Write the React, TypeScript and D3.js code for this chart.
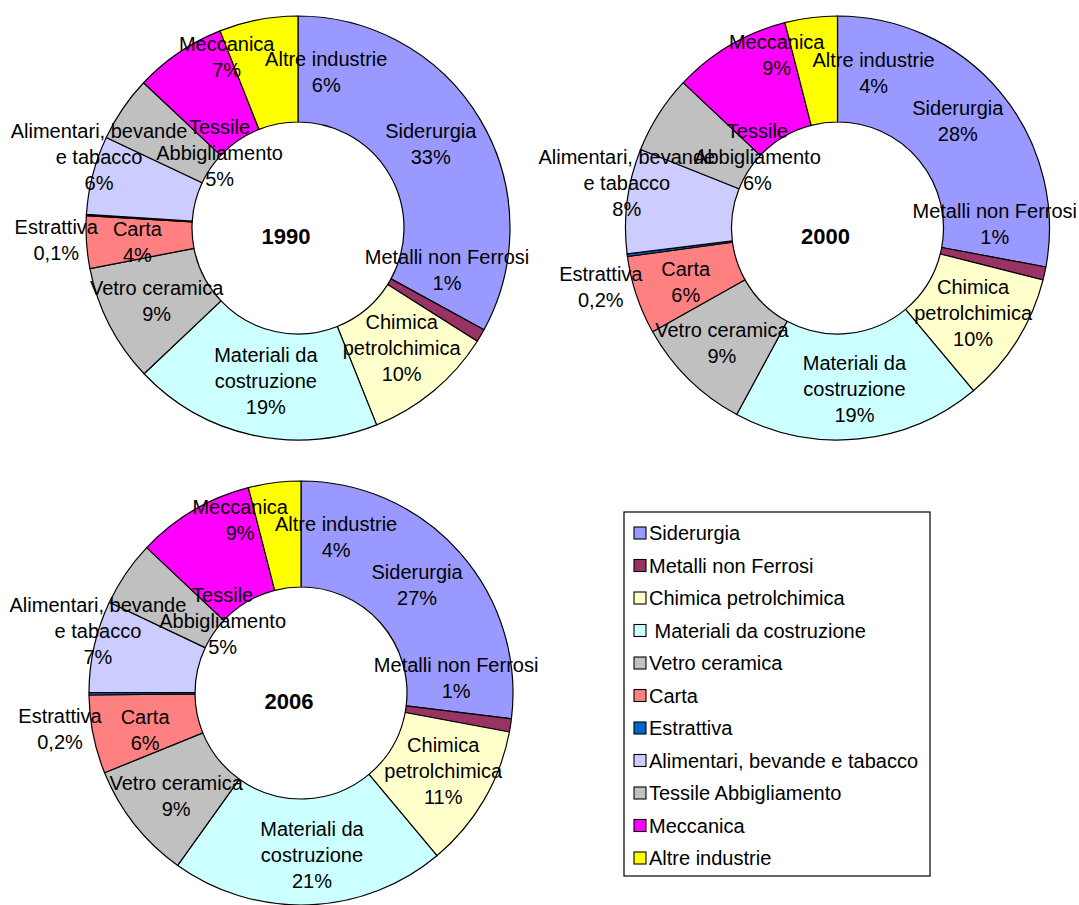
import React from 'react';
import * as d3 from 'd3';

const categories = [
  'Siderurgia',
  'Metalli non Ferrosi',
  'Chimica petrolchimica',
  'Materiali da costruzione',
  'Vetro ceramica',
  'Carta',
  'Estrattiva',
  'Alimentari, bevande e tabacco',
  'Tessile Abbigliamento',
  'Meccanica',
  'Altre industrie',
];

const legendLabels = [
  'Siderurgia',
  'Metalli non Ferrosi',
  'Chimica petrolchimica',
  ' Materiali da costruzione',
  'Vetro ceramica',
  'Carta',
  'Estrattiva',
  'Alimentari, bevande e tabacco',
  'Tessile Abbigliamento',
  'Meccanica',
  'Altre industrie',
];

const sliceLabelLines = [
  ['Siderurgia'],
  ['Metalli non Ferrosi'],
  ['Chimica', 'petrolchimica'],
  ['Materiali da', 'costruzione'],
  ['Vetro ceramica'],
  ['Carta'],
  ['Estrattiva'],
  ['Alimentari, bevande', 'e tabacco'],
  ['Tessile', 'Abbigliamento'],
  ['Meccanica'],
  ['Altre industrie'],
];

const years = ['1990', '2000', '2006'];
const values1990 = [33, 1, 10, 19, 9, 4, 0.1, 6, 5, 7, 6];
const values2000 = [28, 1, 10, 19, 9, 6, 0.2, 8, 6, 9, 4];
const values2006 = [27, 1, 11, 21, 9, 6, 0.2, 7, 5, 9, 4];

const sliceColors = [
  '#9999FF', '#993366', '#FFFFCC', '#CCFFFF', '#C0C0C0', '#FF8080',
  '#0066CC', '#CCCCFF', '#C0C0C0', '#FF00FF', '#FFFF00',
];

// label nudges from the ring centroid (layout only)
const offsets1990 = [[-4, -3], [12, -39], [2, -2], [2, -2], [0, 0], [-2, 3], [-83, 22], [-45, -31], [53, 14], [18, -39], [58, 0]];
const offsets2000 = [[-2, -5], [2, -38], [1, 0], [1, 3], [-4, 2], [-1, 4], [-79, 39], [-53, -25], [54, 14], [20, -36], [56, 3]];
const offsets2006 = [[-3, -3], [-2, -39], [5, -2], [5, 3], [0, 5], [0, 6], [-82, 36], [-48, -27], [53, 18], [20, -36], [55, 2]];

const W = 1079;
const H = 905;
const R_OUT = 212;
const R_IN = 106;
const FONT = '"Liberation Sans", Arial, Helvetica, sans-serif';
const LABEL_SIZE = 20;
const LINE_H = 26;

const charts = [
  { year: years[0], values: values1990, cx: 298, cy: 228, offsets: offsets1990 },
  { year: years[1], values: values2000, cx: 837.5, cy: 228, offsets: offsets2000 },
  { year: years[2], values: values2006, cx: 301, cy: 693, offsets: offsets2006 },
];

const fmtPct = (v: number) => (Number.isInteger(v) ? `${v}%` : `${String(v).replace('.', ',')}%`);

function Donut({ chart }: { chart: typeof charts[number] }) {
  const pie = d3.pie<number>().sort(null).value((d) => d);
  const arcs = pie(chart.values);
  const arc = d3.arc<d3.PieArcDatum<number>>().innerRadius(R_IN).outerRadius(R_OUT);
  const rm = (R_IN + R_OUT) / 2;
  return (
    <g>
      <g transform={`translate(${chart.cx},${chart.cy})`}>
        {arcs.map((a, i) => (
          <path key={i} d={arc(a) || ''} fill={sliceColors[i]} stroke="#000" strokeWidth={1.2} strokeLinejoin="round" />
        ))}
      </g>
      {arcs.map((a, i) => {
        const mid = (a.startAngle + a.endAngle) / 2;
        const bx = chart.cx + rm * Math.sin(mid) + chart.offsets[i][0];
        const by = chart.cy - rm * Math.cos(mid) + chart.offsets[i][1];
        const lines = [...sliceLabelLines[i], fmtPct(chart.values[i])];
        const n = lines.length;
        return (
          <text key={i} fontFamily={FONT} fontSize={LABEL_SIZE} fill="#000" textAnchor="middle">
            {lines.map((t, k) => (
              <tspan key={k} x={bx} y={by + (k - (n - 1) / 2) * LINE_H + LABEL_SIZE * 0.35}>
                {t}
              </tspan>
            ))}
          </text>
        );
      })}
      <text
        x={chart.cx - 12}
        y={chart.cy + 8 + 22 * 0.36}
        fontFamily={FONT}
        fontSize={22}
        fontWeight="bold"
        textAnchor="middle"
        fill="#000"
      >
        {chart.year}
      </text>
    </g>
  );
}

function Legend() {
  const x0 = 624;
  const y0 = 512;
  const w = 306;
  const h = 364;
  const y = d3.scalePoint<string>().domain(categories).range([533, 858]);
  return (
    <g>
      <rect x={x0} y={y0} width={w} height={h} fill="#fff" stroke="#000" strokeWidth={1.2} />
      {categories.map((c, i) => {
        const yy = y(c) as number;
        return (
          <g key={c}>
            <rect x={634} y={yy - 6} width={12} height={12} fill={sliceColors[i]} stroke="#000" strokeWidth={1.1} />
            <text x={649} y={yy + LABEL_SIZE * 0.35} fontFamily={FONT} fontSize={LABEL_SIZE} fill="#000" style={{ whiteSpace: 'pre' }}>
              {legendLabels[i]}
            </text>
          </g>
        );
      })}
    </g>
  );
}

export default function App() {
  return (
    <svg
      width={W}
      height={H}
      viewBox={`0 0 ${W} ${H}`}
      style={{ position: 'absolute', left: 0, top: 0, background: '#fff', display: 'block' }}
    >
      <rect x={0} y={0} width={W} height={H} fill="#fff" />
      {charts.map((c) => (
        <Donut key={c.year} chart={c} />
      ))}
      <Legend />
    </svg>
  );
}
